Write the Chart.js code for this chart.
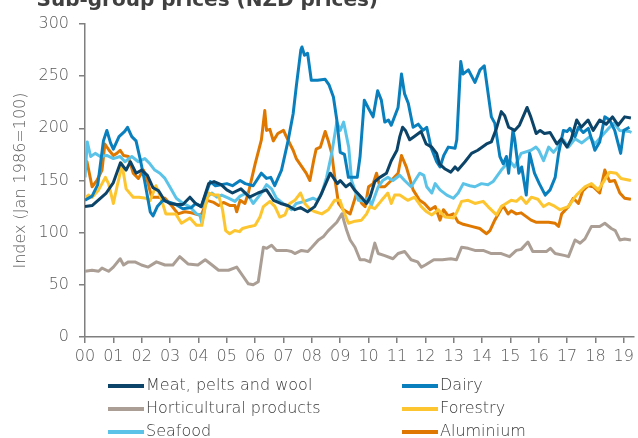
<!DOCTYPE html>
<html>
<head>
<meta charset="utf-8">
<script src="https://cdn.jsdelivr.net/npm/chart.js@4.4.1/dist/chart.umd.min.js"></script>
<style>
  html, body { margin: 0; padding: 0; background: #ffffff; }
  #wrap { position: relative; width: 638px; height: 438px; overflow: hidden; }
</style>
</head>
<body>
<div id="wrap"><canvas id="c"></canvas></div>
<script>
// ---- Data (x = decimal year) ----
const chartTitle = "Sub-group prices (NZD prices)";
const yAxisTitle = "Index (Jan 1986=100)";
const seriesNames = ["Meat, pelts and wool", "Dairy", "Horticultural products", "Forestry", "Seafood", "Aluminium"];
const seriesColors = ["#0b4468", "#0a7fbd", "#ab9f95", "#fdc630", "#5cc3e8", "#df7800"];
const yTicks = [0, 50, 100, 150, 200, 250, 300];
const yearTicks = [2000, 2001, 2002, 2003, 2004, 2005, 2006, 2007, 2008, 2009, 2010, 2011, 2012, 2013, 2014, 2015, 2016, 2017, 2018, 2019];

const meatWool = [[2000.0,125],[2000.25,126],[2000.5,132],[2000.75,138],[2001.0,148],[2001.25,167],[2001.45,160],[2001.6,168],[2001.8,157],[2002.0,160],[2002.2,155],[2002.4,143],[2002.6,140],[2002.8,131],[2003.0,128],[2003.25,127],[2003.45,127],[2003.7,134],[2003.9,128],[2004.1,125],[2004.36,147],[2004.55,149],[2004.8,146],[2005.0,141],[2005.2,138],[2005.5,142],[2005.8,134],[2006.1,138],[2006.4,141],[2006.65,131],[2006.9,128],[2007.15,126],[2007.4,122],[2007.6,124],[2007.85,120],[2008.1,125],[2008.3,135],[2008.65,157],[2008.9,147],[2009.0,150],[2009.2,144],[2009.35,147],[2009.5,141],[2009.75,134],[2009.93,128],[2010.05,134],[2010.22,149],[2010.4,153],[2010.63,157],[2010.8,169],[2011.0,179],[2011.1,192],[2011.2,201],[2011.3,198],[2011.45,189],[2011.6,192],[2011.85,197],[2012.03,185],[2012.23,182],[2012.4,176],[2012.5,166],[2012.7,161],[2012.9,158],[2013.05,163],[2013.15,160],[2013.4,168],[2013.63,176],[2013.85,179],[2014.16,185],[2014.33,187],[2014.51,200],[2014.68,216],[2014.8,212],[2014.94,201],[2015.15,198],[2015.32,203],[2015.59,220],[2015.72,211],[2015.91,195],[2016.05,198],[2016.2,195],[2016.4,196],[2016.64,185],[2016.8,190],[2017.0,182],[2017.15,190],[2017.34,208],[2017.5,201],[2017.74,208],[2017.92,198],[2018.15,208],[2018.38,204],[2018.6,211],[2018.8,203],[2019.03,211],[2019.25,210]];

const dairy = [[2000.0,131],[2000.25,135],[2000.45,146],[2000.65,188],[2000.77,198],[2000.9,186],[2001.0,180],[2001.2,192],[2001.4,197],[2001.5,201],[2001.65,192],[2001.8,188],[2001.95,170],[2002.1,150],[2002.3,120],[2002.4,116],[2002.55,125],[2002.75,131],[2003.0,129],[2003.2,127],[2003.45,123],[2003.75,124],[2003.9,128],[2004.1,125],[2004.42,149],[2004.6,145],[2004.8,146],[2005.0,147],[2005.2,145],[2005.47,150],[2005.65,147],[2005.93,145],[2006.22,157],[2006.4,152],[2006.55,153],[2006.69,145],[2006.93,160],[2007.16,188],[2007.34,214],[2007.45,240],[2007.61,275],[2007.65,278],[2007.74,270],[2007.85,272],[2007.98,246],[2008.2,246],[2008.47,247],[2008.6,242],[2008.76,230],[2008.88,208],[2009.0,177],[2009.15,175],[2009.29,153],[2009.5,153],[2009.6,153],[2009.7,173],[2009.85,227],[2010.0,219],[2010.16,211],[2010.32,236],[2010.45,227],[2010.57,206],[2010.7,208],[2010.8,203],[2011.04,220],[2011.16,252],[2011.27,233],[2011.4,224],[2011.57,201],[2011.75,204],[2011.92,198],[2012.05,201],[2012.2,182],[2012.4,168],[2012.52,163],[2012.65,174],[2012.81,182],[2013.05,181],[2013.11,189],[2013.25,264],[2013.33,252],[2013.52,256],[2013.75,244],[2013.93,256],[2014.08,260],[2014.33,211],[2014.45,205],[2014.63,173],[2014.75,166],[2014.86,173],[2014.94,157],[2015.09,198],[2015.15,190],[2015.3,157],[2015.4,163],[2015.56,136],[2015.68,176],[2015.85,157],[2016.02,147],[2016.23,136],[2016.4,141],[2016.58,153],[2016.7,176],[2016.87,198],[2017.0,197],[2017.1,200],[2017.28,192],[2017.4,201],[2017.57,196],[2017.75,200],[2017.98,179],[2018.15,187],[2018.33,211],[2018.5,208],[2018.68,198],[2018.89,176],[2019.0,198],[2019.2,201]];

const horticulture = [[2000.0,63],[2000.25,64],[2000.48,63],[2000.6,66],[2000.83,63],[2001.0,67],[2001.24,75],[2001.36,69],[2001.53,72],[2001.76,72],[2001.99,69],[2002.23,67],[2002.52,72],[2002.82,69],[2003.1,69],[2003.34,77],[2003.63,70],[2003.98,69],[2004.24,74],[2004.48,69],[2004.71,64],[2005.06,64],[2005.35,67],[2005.58,58],[2005.76,51],[2005.93,50],[2006.11,53],[2006.29,86],[2006.41,85],[2006.58,88],[2006.75,83],[2007.1,83],[2007.28,82],[2007.4,80],[2007.63,83],[2007.86,82],[2008.0,86],[2008.23,93],[2008.4,96],[2008.58,102],[2008.88,110],[2009.06,118],[2009.23,102],[2009.35,93],[2009.52,86],[2009.7,74],[2009.87,74],[2010.05,72],[2010.22,90],[2010.34,80],[2010.57,78],[2010.86,75],[2011.04,80],[2011.27,82],[2011.5,74],[2011.73,72],[2011.86,67],[2012.0,69],[2012.3,74],[2012.6,74],[2012.9,75],[2013.1,74],[2013.28,86],[2013.51,85],[2013.75,83],[2014.04,83],[2014.33,80],[2014.68,80],[2014.97,77],[2015.21,83],[2015.38,84],[2015.62,91],[2015.79,82],[2016.0,82],[2016.28,82],[2016.41,85],[2016.58,80],[2016.93,78],[2017.05,77],[2017.28,93],[2017.46,90],[2017.63,94],[2017.86,106],[2018.15,106],[2018.33,109],[2018.56,104],[2018.7,102],[2018.86,93],[2019.03,94],[2019.25,93]];

const forestry = [[2000.0,133],[2000.12,136],[2000.25,134],[2000.48,141],[2000.72,153],[2000.83,147],[2001.0,128],[2001.12,143],[2001.24,157],[2001.3,166],[2001.45,142],[2001.7,134],[2001.9,134],[2002.15,133],[2002.3,131],[2002.5,145],[2002.67,134],[2002.85,118],[2003.2,118],[2003.4,109],[2003.7,114],[2003.93,107],[2004.12,107],[2004.24,125],[2004.36,138],[2004.55,136],[2004.71,136],[2004.85,122],[2004.96,102],[2005.1,99],[2005.28,102],[2005.45,101],[2005.55,104],[2005.82,106],[2006.0,107],[2006.17,115],[2006.29,125],[2006.52,130],[2006.7,125],[2006.87,115],[2007.05,117],[2007.22,128],[2007.4,131],[2007.6,138],[2007.75,128],[2007.95,122],[2008.12,120],[2008.35,118],[2008.58,122],[2008.8,131],[2008.99,131],[2009.1,122],[2009.29,109],[2009.52,111],[2009.75,112],[2009.93,118],[2010.05,125],[2010.22,123],[2010.46,131],[2010.68,138],[2010.8,128],[2010.92,136],[2011.1,136],[2011.27,133],[2011.38,131],[2011.62,134],[2011.86,125],[2012.05,120],[2012.23,117],[2012.46,122],[2012.7,115],[2012.99,114],[2013.1,119],[2013.28,130],[2013.51,131],[2013.75,128],[2014.04,130],[2014.21,125],[2014.51,117],[2014.68,125],[2015.03,131],[2015.21,130],[2015.38,134],[2015.56,128],[2015.74,134],[2015.97,132],[2016.17,125],[2016.35,128],[2016.52,126],[2016.75,122],[2017.04,125],[2017.33,136],[2017.63,144],[2017.86,147],[2018.1,141],[2018.5,158],[2018.74,157],[2018.9,152],[2019.25,150]];

const seafood = [[2000.0,153],[2000.08,187],[2000.2,173],[2000.36,176],[2000.54,173],[2000.77,174],[2001.0,171],[2001.24,173],[2001.41,168],[2001.65,173],[2001.88,168],[2002.11,171],[2002.29,166],[2002.46,160],[2002.64,157],[2002.82,152],[2002.99,144],[2003.22,133],[2003.46,128],[2003.69,125],[2003.93,118],[2004.05,117],[2004.12,109],[2004.3,134],[2004.47,138],[2004.65,134],[2004.82,136],[2005.06,133],[2005.29,130],[2005.47,135],[2005.7,138],[2005.82,133],[2005.93,128],[2006.22,138],[2006.4,146],[2006.58,142],[2006.75,133],[2006.98,128],[2007.16,125],[2007.28,122],[2007.45,128],[2007.74,130],[2008.04,133],[2008.2,131],[2008.35,138],[2008.52,153],[2008.7,176],[2008.88,206],[2009.0,198],[2009.12,206],[2009.3,182],[2009.4,150],[2009.64,131],[2009.87,130],[2010.0,134],[2010.1,126],[2010.34,144],[2010.5,150],[2010.68,153],[2010.86,150],[2011.1,155],[2011.27,150],[2011.5,144],[2011.8,157],[2011.95,155],[2012.05,144],[2012.23,138],[2012.35,147],[2012.52,141],[2012.76,136],[2012.99,133],[2013.16,138],[2013.34,147],[2013.57,145],[2013.75,144],[2013.98,147],[2014.21,146],[2014.39,149],[2014.68,160],[2014.97,169],[2015.15,163],[2015.38,176],[2015.73,179],[2015.9,182],[2016.0,179],[2016.17,169],[2016.35,182],[2016.52,177],[2016.87,189],[2017.05,182],[2017.28,190],[2017.52,186],[2017.8,192],[2017.98,185],[2018.2,192],[2018.5,201],[2018.66,205],[2018.85,198],[2019.2,197],[2019.27,196]];

const aluminium = [[2000.0,163],[2000.07,168],[2000.25,144],[2000.42,150],[2000.6,160],[2000.7,185],[2000.85,179],[2001.0,174],[2001.12,176],[2001.24,179],[2001.36,174],[2001.53,173],[2001.7,157],[2001.88,152],[2002.06,160],[2002.17,153],[2002.35,134],[2002.58,134],[2002.82,133],[2003.05,126],[2003.28,118],[2003.52,120],[2003.75,119],[2004.0,117],[2004.12,118],[2004.3,131],[2004.54,129],[2004.71,126],[2004.88,129],[2005.12,126],[2005.29,126],[2005.35,120],[2005.47,131],[2005.64,128],[2005.76,138],[2006.0,166],[2006.22,189],[2006.34,217],[2006.4,198],[2006.52,199],[2006.64,188],[2006.8,195],[2007.0,198],[2007.1,192],[2007.34,179],[2007.45,171],[2007.8,157],[2007.93,150],[2008.07,170],[2008.15,180],[2008.3,182],[2008.47,197],[2008.58,188],[2008.7,176],[2008.82,150],[2008.94,128],[2009.11,122],[2009.35,118],[2009.58,138],[2009.76,128],[2009.88,125],[2010.0,144],[2010.16,147],[2010.28,157],[2010.4,144],[2010.57,144],[2010.8,150],[2011.04,157],[2011.16,174],[2011.33,163],[2011.57,141],[2011.8,131],[2011.97,128],[2012.17,122],[2012.35,125],[2012.52,112],[2012.64,122],[2012.81,116],[2012.99,118],[2013.16,110],[2013.34,108],[2013.63,106],[2013.92,104],[2014.16,99],[2014.28,102],[2014.45,112],[2014.62,120],[2014.74,126],[2014.92,118],[2015.03,121],[2015.21,118],[2015.38,119],[2015.73,112],[2015.9,110],[2016.1,110],[2016.35,110],[2016.58,109],[2016.7,106],[2016.81,118],[2017.05,125],[2017.22,133],[2017.4,128],[2017.55,140],[2017.74,145],[2017.92,144],[2018.15,138],[2018.33,160],[2018.5,149],[2018.68,150],[2018.86,138],[2019.03,133],[2019.25,132]];

const seriesData = [meatWool, dairy, horticulture, forestry, seafood, aluminium];

// ---- Chart ----
const FONT = "'DejaVu Sans', 'Open Sans', sans-serif";
const TEXT = "#5a5a5a";
const AXIS = "#7f7f7f";

const twoColLegend = {
  id: 'twoColLegend',
  afterDraw(chart) {
    const ctx = chart.ctx;
    ctx.save();
    // partially visible title (cut off at top edge, as in reference)
    ctx.font = "bold 20px " + FONT;
    ctx.fillStyle = "#404040";
    ctx.textAlign = "right";
    ctx.textBaseline = "alphabetic";
    ctx.fillText(chartTitle, 378, 6);

    const colLine = [108, 402];
    const rowY = [386, 409, 432];
    ctx.font = "200 16px " + FONT;
    ctx.textAlign = "left";
    ctx.textBaseline = "middle";
    chart.data.datasets.forEach((ds, i) => {
      const col = i % 2, row = Math.floor(i / 2);
      const x0 = colLine[col], y = rowY[row];
      ctx.strokeStyle = ds.borderColor;
      ctx.lineWidth = 4;
      ctx.beginPath();
      ctx.moveTo(x0, y);
      ctx.lineTo(x0 + 36, y);
      ctx.stroke();
      ctx.fillStyle = "#3a3a3a";
      ctx.fillText(ds.label, x0 + 38, y);
    });
    ctx.restore();
  }
};

new Chart(document.getElementById('c'), {
  type: 'line',
  data: {
    datasets: seriesNames.map((name, i) => ({
      label: name,
      data: seriesData[i].map(p => ({ x: p[0], y: p[1] })),
      borderColor: seriesColors[i],
      backgroundColor: seriesColors[i],
      borderWidth: 3,
      pointRadius: 0,
      tension: 0,
      borderJoinStyle: 'round',
      fill: false
    }))
  },
  options: {
    responsive: true,
    maintainAspectRatio: false,
    animation: false,
    layout: { padding: { top: 24, right: 1, left: 0, bottom: 0 } },
    plugins: { legend: { display: false }, tooltip: { enabled: false }, title: { display: false } },
    scales: {
      x: {
        type: 'linear',
        min: 2000,
        max: 2019.35,
        afterFit(scale) { scale.height = 101; },
        afterBuildTicks(scale) { scale.ticks = yearTicks.map(v => ({ value: v })); },
        border: { display: true, color: AXIS, width: 1.5 },
        grid: { display: true, drawOnChartArea: false, drawTicks: true, tickLength: 6, color: AXIS, lineWidth: 1.5 },
        ticks: {
          includeBounds: false,
          autoSkip: false,
          maxRotation: 0,
          padding: 4,
          color: TEXT,
          font: { family: FONT, size: 16, weight: 200 },
          callback: v => String(Math.round(v) % 100).padStart(2, '0')
        }
      },
      y: {
        min: 0,
        max: 300,
        afterFit(scale) { scale.width = 85; },
        afterBuildTicks(scale) { scale.ticks = yTicks.map(v => ({ value: v })); },
        border: { display: true, color: AXIS, width: 1.5 },
        grid: { display: true, drawOnChartArea: false, drawTicks: true, tickLength: 6, color: AXIS, lineWidth: 1.5 },
        title: { display: true, text: yAxisTitle, color: TEXT, font: { family: FONT, size: 16, weight: 200 }, padding: { top: 11, bottom: 0 } },
        ticks: { padding: 10, color: TEXT, font: { family: FONT, size: 16, weight: 200 } }
      }
    }
  },
  plugins: [twoColLegend]
});
</script>
</body>
</html>
